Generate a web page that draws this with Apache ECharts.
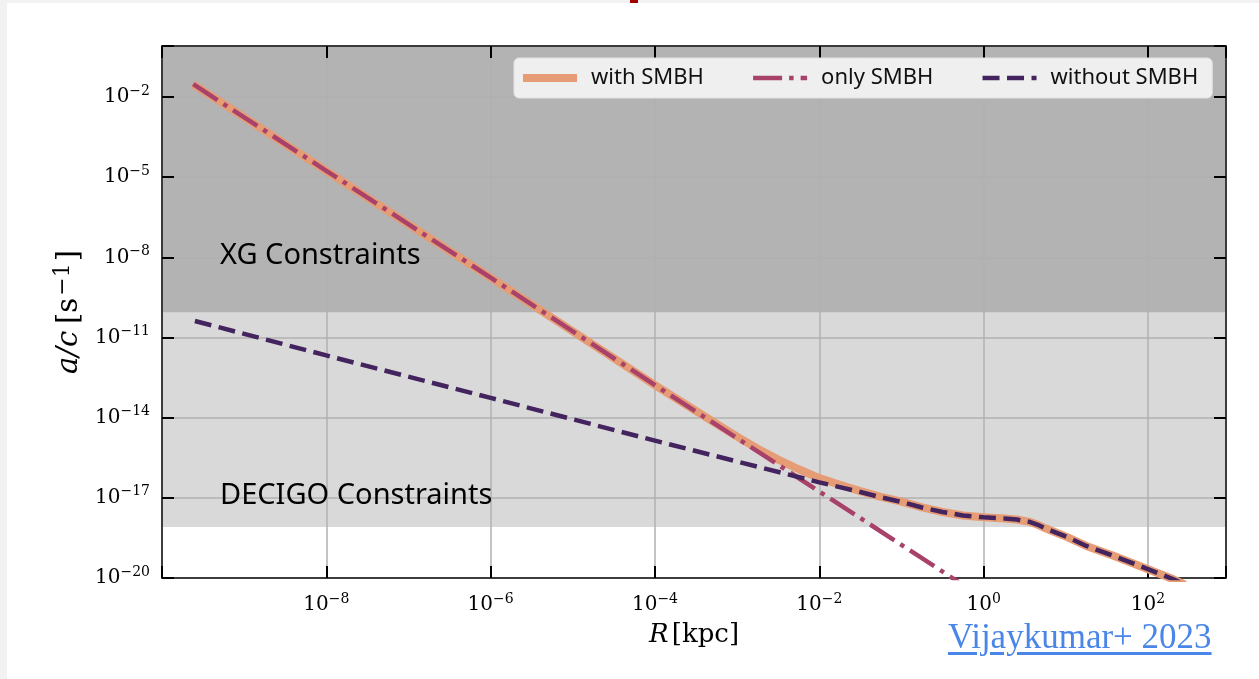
<!DOCTYPE html>
<html>
<head>
<meta charset="utf-8">
<script src="https://cdn.jsdelivr.net/npm/echarts@6/dist/echarts.min.js"></script>
<style>
html,body{margin:0;padding:0;width:1259px;height:679px;overflow:hidden;background:#f2f2f2;}
#chart{position:absolute;left:7px;top:3px;width:1252px;height:676px;background:#ffffff;}
#mark{position:absolute;left:630px;top:0;width:8px;height:3px;background:#a30000;}
#cite{position:absolute;left:948px;top:619px;font-family:'Liberation Serif',serif;font-size:35px;line-height:35px;color:#4a86e8;text-decoration:underline;text-decoration-thickness:3px;text-underline-offset:4px;white-space:nowrap;}
</style>
</head>
<body>
<div id="chart"></div>
<div id="mark"></div>
<div id="cite">Vijaykumar+ 2023</div>
<script>
// ---- data (log10 values) ----
const xTickExps = [-8, -6, -4, -2, 0, 2];           // R [kpc] tick exponents
const yTickExps = [-20, -17, -14, -11, -8, -5, -2];   // a/c [s^-1] tick exponents

// with SMBH
const withLogR = [-9.62, -8, -6, -4, -3.5, -3.25, -3, -2.75, -2.5, -2.25, -2, -1.75, -1.5, -1.25, -1, -0.75, -0.5, -0.25, 0, 0.25, 0.4, 0.56, 0.66, 0.76, 0.88, 1.01, 1.25, 1.58, 2.0, 2.31, 2.45];
const withLogA = [-1.52, -4.76, -8.76, -12.78, -13.75, -14.23, -14.71, -15.16, -15.57, -15.93, -16.26, -16.51, -16.75, -16.96, -17.14, -17.36, -17.53, -17.66, -17.73, -17.77, -17.81, -17.90, -18.01, -18.15, -18.30, -18.46, -18.80, -19.17, -19.67, -20.05, -20.25];

// only SMBH
const onlyLogR = [-9.62, -8, -6, -4, -2, -0.3];
const onlyLogA = [-1.52, -4.76, -8.76, -12.78, -16.76, -20.16];

// without SMBH
const withoutLogR = [-9.6, -8, -6, -4, -2, -1.5, -1.25, -1, -0.75, -0.5, -0.25, 0, 0.25, 0.4, 0.56, 0.66, 0.76, 0.88, 1.01, 1.25, 1.58, 2.0, 2.31, 2.45];
const withoutLogA = [-10.38, -11.67, -13.26, -14.86, -16.42, -16.78, -16.98, -17.15, -17.36, -17.53, -17.66, -17.73, -17.77, -17.81, -17.90, -18.01, -18.15, -18.30, -18.46, -18.80, -19.17, -19.67, -20.05, -20.25];

// constraint bands (lower edges, log10 a/c)
const xgLower = -10.06;
const decigoLower = -18.09;

// axis extents (log10)
const xMin = -10, xMax = 2.95;
const yMin = -20, yMax = -0.09;

// ---- helpers ----
const zip = (a, b) => a.map((v, i) => [v, b[i]]);
const expStr = n => (n < 0 ? '\u2212' + Math.abs(n) : String(n));
const isTick = (v, list) => Math.abs(v - Math.round(v)) < 1e-6 && list.includes(Math.round(v));
const SERIF = 'DejaVu Serif';
const richTick = {
  b: {fontFamily: SERIF, fontSize: 20, color: '#000', lineHeight: 26},
  s: {fontFamily: SERIF, fontSize: 14, color: '#000', lineHeight: 14, verticalAlign: 'top'}
};

const chart = echarts.init(document.getElementById('chart'), null, {renderer: 'canvas'});

const frameLine = {show: true, onZero: false, lineStyle: {color: '#111', width: 1.5}};
const tickStyle = {show: true, inside: true, length: 12, lineStyle: {color: '#000', width: 2}};
const gridLine = {show: true, lineStyle: {color: '#b0b0b0', width: 1.5}};

const option = {
  animation: false,
  grid: {left: 155, top: 43, width: 1064, height: 532, containLabel: false},
  legend: {
    left: 507, top: 55,
    padding: [9, 14, 9, 5],
    itemWidth: 54, itemHeight: 14, itemGap: 47,
    backgroundColor: '#efefef', borderColor: '#e2e2e2', borderWidth: 1, borderRadius: 5,
    textStyle: {fontFamily: 'Noto Sans', fontSize: 22, color: '#111', padding: [0, 0, 0, 9]},
    lineStyle: {width: 'inherit'},
    itemStyle: {opacity: 0},
    data: ['with SMBH', 'only SMBH', 'without SMBH']
  },
  xAxis: [{
    type: 'value', min: xMin, max: xMax, interval: 2, z: 1.5,
    axisLine: frameLine, axisTick: tickStyle, splitLine: gridLine,
    axisLabel: {
      margin: 14,
      formatter: v => isTick(v, xTickExps) ? '{b|10}{s|' + expStr(Math.round(v)) + '}' : '',
      rich: richTick
    },
    name: '{i|R} {n|[kpc]}', nameLocation: 'middle', nameGap: 44,
    nameTextStyle: {rich: {
      i: {fontFamily: SERIF, fontStyle: 'italic', fontSize: 26, color: '#000'},
      n: {fontFamily: SERIF, fontSize: 26, color: '#000'}
    }}
  }, {
    type: 'value', position: 'top', min: xMin, max: xMax, interval: 2, z: 1.5,
    axisLine: frameLine, axisTick: tickStyle, splitLine: {show: false}, axisLabel: {show: false}
  }],
  yAxis: [{
    type: 'value', min: yMin, max: yMax, interval: 3, z: 1.5,
    axisLine: frameLine, axisTick: tickStyle, splitLine: gridLine,
    axisLabel: {
      margin: 12,
      formatter: v => isTick(v, yTickExps) ? '{b|10}{s|' + expStr(Math.round(v)) + '}' : '',
      rich: richTick
    },
    name: '{i|a/c}  {n|[s}{s|\u22121}{n|]}', nameLocation: 'middle', nameGap: 76,
    nameTextStyle: {rich: {
      i: {fontFamily: SERIF, fontStyle: 'italic', fontSize: 29, color: '#000', lineHeight: 34},
      n: {fontFamily: SERIF, fontSize: 29, color: '#000', lineHeight: 34},
      s: {fontFamily: SERIF, fontSize: 22, color: '#000', lineHeight: 20, verticalAlign: 'top', padding: [0, 2, 0, 2]}
    }}
  }, {
    type: 'value', position: 'right', min: yMin, max: yMax, interval: 3, z: 1.5,
    axisLine: frameLine, axisTick: tickStyle, splitLine: {show: false}, axisLabel: {show: false}
  }],
  graphic: [
    {type: 'text', left: 213, top: 238, z: 3, style: {text: 'XG Constraints', fontFamily: 'Noto Sans', fontSize: 29, fill: '#000'}},
    {type: 'text', left: 213, top: 478, z: 3, style: {text: 'DECIGO Constraints', fontFamily: 'Noto Sans', fontSize: 29, fill: '#000'}}
  ],
  series: [{
    name: 'with SMBH', type: 'line', data: zip(withLogR, withLogA),
    symbol: 'none', smooth: false, clip: true, z: 3,
    lineStyle: {color: '#e69c74', width: 8, join: 'round'},
    itemStyle: {color: '#e69c74'},
    markArea: {
      silent: true, z: 1,
      data: [
        [{yAxis: decigoLower, itemStyle: {color: '#d9d9d9'}}, {yAxis: xgLower}],
        [{yAxis: xgLower, itemStyle: {color: '#b3b3b3'}}, {yAxis: yMax}]
      ]
    }
  }, {
    name: 'only SMBH', type: 'line', data: zip(onlyLogR, onlyLogA),
    symbol: 'none', smooth: false, clip: true, z: 4,
    lineStyle: {color: '#a8426a', width: 4.5, type: [29, 7, 4.5, 7]},
    itemStyle: {color: '#a8426a'}
  }, {
    name: 'without SMBH', type: 'line', data: zip(withoutLogR, withoutLogA),
    symbol: 'none', smooth: false, clip: true, z: 5,
    lineStyle: {color: '#43245e', width: 4.5, type: [17, 7.5], join: 'round'},
    itemStyle: {color: '#43245e'}
  }]
};
chart.setOption(option);
</script>
</body>
</html>
